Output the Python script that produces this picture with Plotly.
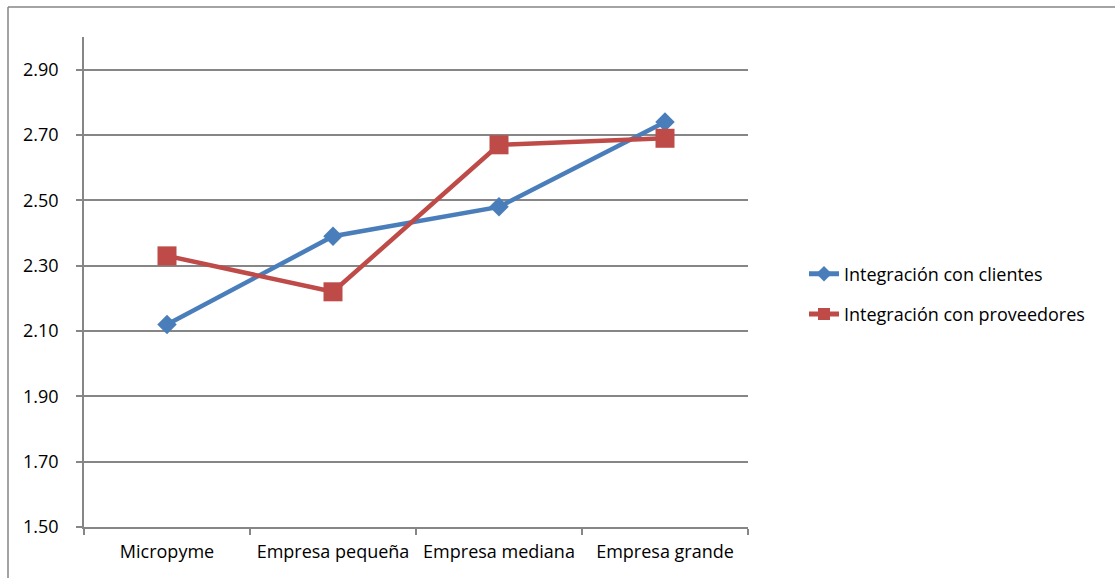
import plotly.graph_objects as go

# Categories and series values
categorias = ["Micropyme", "Empresa pequeña", "Empresa mediana", "Empresa grande"]
clientes = [2.12, 2.39, 2.48, 2.74]
proveedores = [2.33, 2.22, 2.67, 2.69]
y_ticks = [1.50, 1.70, 1.90, 2.10, 2.30, 2.50, 2.70, 2.90]

AZUL = "#4A7EBB"
ROJO = "#BE4B48"
GRIS = "#868686"
FUENTE = "Open Sans"
TAM = 18

fig = go.Figure()
fig.add_trace(go.Scatter(
    x=categorias, y=clientes, name="Integración con clientes",
    mode="lines+markers", legendgroup="a",
    line=dict(color=AZUL, width=4.5),
    marker=dict(symbol="diamond", size=15, color=AZUL),
))
fig.add_trace(go.Scatter(
    x=categorias, y=proveedores, name="Integración con proveedores",
    mode="lines+markers", legendgroup="b",
    line=dict(color=ROJO, width=4.5),
    marker=dict(symbol="square", size=19, color=ROJO),
))

L, R, T, B = 84, 367, 37, 51
W, H = 1115, 578
pw, ph = W - L - R, H - T - B

def px_x(px):
    return (px - L) / pw

def px_y(py):
    return (H - B - py) / ph

fig.update_layout(
    width=W, height=H,
    margin=dict(l=L, r=R, t=T, b=B, pad=0),
    paper_bgcolor="white", plot_bgcolor="white",
    font=dict(family=FUENTE, size=TAM, color="#000000"),
    showlegend=True,
    legend=dict(
        x=px_x(804), y=px_y(294), xanchor="left", yanchor="middle",
        font=dict(family=FUENTE, size=TAM, color="#000000"),
        bgcolor="rgba(0,0,0,0)", tracegroupgap=14, itemsizing="constant",
    ),
    xaxis=dict(
        type="category", range=[-0.5, 3.5],
        tickson="boundaries", ticks="outside", ticklen=6, tickcolor=GRIS, tickwidth=1.5,
        showline=True, linecolor=GRIS, linewidth=1.5,
        showgrid=False, zeroline=False,
        tickfont=dict(family=FUENTE, size=TAM),
        ticklabelstandoff=8,
    ),
    yaxis=dict(
        range=[1.5, 3.0], tickvals=y_ticks,
        ticktext=[f"{v:.2f}" for v in y_ticks],
        ticks="outside", ticklen=6, tickcolor=GRIS, tickwidth=1.5,
        showline=True, linecolor=GRIS, linewidth=1.5,
        showgrid=True, gridcolor=GRIS, gridwidth=1.5,
        zeroline=False,
        tickfont=dict(family=FUENTE, size=TAM),
        ticklabelstandoff=14,
    ),
    shapes=[
        dict(type="line", xref="paper", yref="paper",
             x0=px_x(8), x1=px_x(8), y0=px_y(7), y1=px_y(600),
             line=dict(color=GRIS, width=1.5)),
        dict(type="line", xref="paper", yref="paper",
             x0=px_x(8), x1=px_x(1200), y0=px_y(7), y1=px_y(7),
             line=dict(color=GRIS, width=1.5)),
    ],
)

fig.write_html("out.html")
